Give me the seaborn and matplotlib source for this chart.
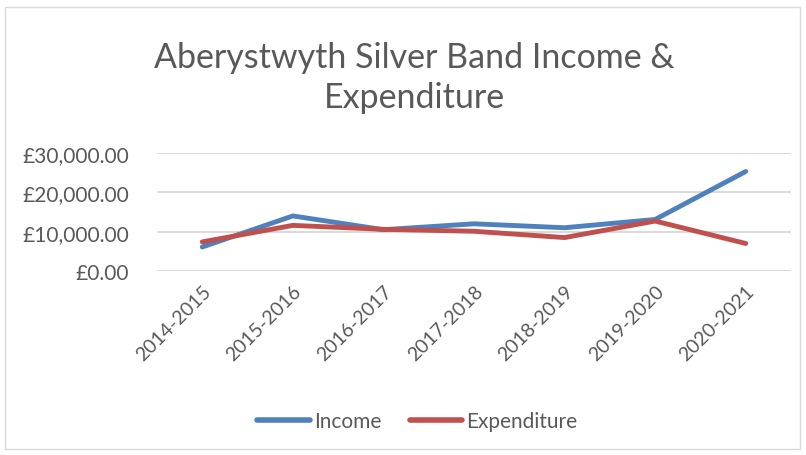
import pandas as pd
import matplotlib
matplotlib.use('Agg')
import matplotlib.pyplot as plt
import seaborn as sns
from matplotlib.patches import Rectangle
from matplotlib.ticker import FuncFormatter

# Data
years = ['2014-2015', '2015-2016', '2016-2017', '2017-2018', '2018-2019', '2019-2020', '2020-2021']
income = [6100, 14000, 10500, 12000, 11000, 13100, 25300]
expenditure = [7400, 11600, 10600, 10100, 8500, 12700, 7000]

data = pd.DataFrame({
    'Year': years * 2,
    'Amount': income + expenditure,
    'Series': ['Income'] * len(years) + ['Expenditure'] * len(years),
})

sns.set_style('white')
plt.rcParams['font.family'] = ['Lato', 'DejaVu Sans']

text_grey = '#595959'
palette = {'Income': '#4F81BD', 'Expenditure': '#C0504D'}

fig = plt.figure(figsize=(8.06, 4.56), dpi=100)
ax = fig.add_axes([157 / 806, 1 - 272 / 456, 634 / 806, 118 / 456])

sns.lineplot(data=data, x='Year', y='Amount', hue='Series', palette=palette,
             linewidth=3.5, ax=ax, legend=True, sort=False)
for line in ax.lines:
    line.set_solid_capstyle('round')
    line.set_solid_joinstyle('round')

ax.set_xlim(-0.5, len(years) - 0.5)
ax.set_ylim(0, 30000)
ax.set_yticks([0, 10000, 20000, 30000])
ax.yaxis.set_major_formatter(FuncFormatter(lambda v, p: '£{:,.2f}'.format(v)))
ax.grid(axis='y', color='#D9D9D9', linewidth=1.4)
ax.set_axisbelow(True)
for s in ax.spines.values():
    s.set_visible(False)
ax.set_xlabel('')
ax.set_ylabel('')
ax.tick_params(axis='y', labelsize=15, colors=text_grey, length=0, pad=20)
ax.tick_params(axis='x', labelsize=14, colors=text_grey, length=0, pad=8)
plt.setp(ax.get_xticklabels(), rotation=45, ha='right', rotation_mode='anchor')

# Legend at the bottom
handles, labels = ax.get_legend_handles_labels()
ax.get_legend().remove()
leg = fig.legend(handles, labels, loc='center', bbox_to_anchor=(0.518, 1 - 422 / 456),
                 ncol=2, frameon=False, fontsize=15, handlelength=2.5,
                 handletextpad=0.2, columnspacing=1.4, labelcolor=text_grey)
for h in leg.get_lines():
    h.set_linewidth(4)
    h.set_solid_capstyle('round')

fig.text(0.514, 1 - 78 / 456, 'Aberystwyth Silver Band Income &\nExpenditure',
         ha='center', va='center', fontsize=24.5, color=text_grey, linespacing=1.3)

# Chart border
fig.patches.append(Rectangle((5 / 806, 6 / 456), 795 / 806, 442 / 456,
                             transform=fig.transFigure, fill=False,
                             edgecolor='#D9D9D9', linewidth=1))

fig.savefig('out.png', dpi=100)
